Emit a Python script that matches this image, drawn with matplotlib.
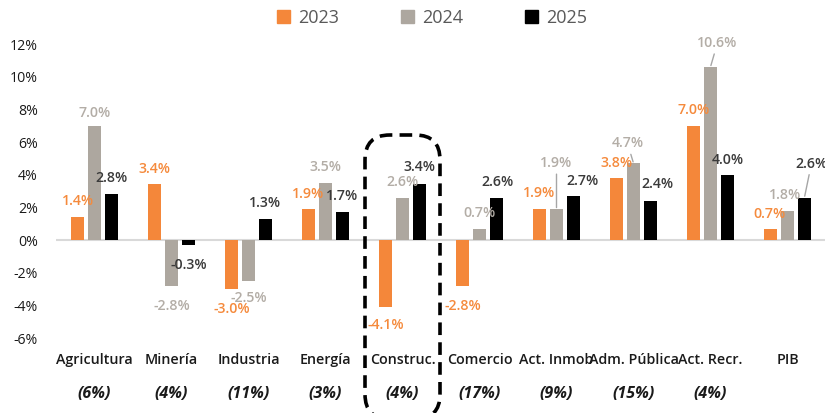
import matplotlib
matplotlib.use("Agg")
import matplotlib.pyplot as plt
import matplotlib.transforms as mtrans
from matplotlib.patches import Patch, FancyBboxPatch
import numpy as np

categories = ["Agricultura", "Minería", "Industria", "Energía", "Construc.",
              "Comercio", "Act. Inmob", "Adm. Pública", "Act. Recr.", "PIB"]
weights = ["(6%)", "(4%)", "(11%)", "(3%)", "(4%)", "(17%)", "(9%)", "(15%)", "(4%)", ""]
series_names = ["2023", "2024", "2025"]
v2023 = [1.4, 3.4, -3.0, 1.9, -4.1, -2.8, 1.9, 3.8, 7.0, 0.7]
v2024 = [7.0, -2.8, -2.5, 3.5, 2.6, 0.7, 1.9, 4.7, 10.6, 1.8]
v2025 = [2.8, -0.3, 1.3, 1.7, 3.4, 2.6, 2.7, 2.4, 4.0, 2.6]
yticks = [-6, -4, -2, 0, 2, 4, 6, 8, 10, 12]

# label offsets in pixels (dx, dy) relative to bar end
off2023 = [(0, 16), (0, 15), (0, -20), (0, 15), (0, -18), (0, -20), (0, 16), (0, 15), (0, 16), (-1, 15)]
off2024 = [(0, 13), (0, -20), (0, -17), (0, 16), (0, 16), (0, 16), (0, 46), (-6, 20), (7, 24), (-2, 16)]
off2025 = [(0, 16), (0, -20), (0, 16), (0, 16), (0, 17), (1, 16), (9, 15), (7, 17), (0, 15), (7, 34)]
lead2024 = [False, False, False, False, False, False, True, True, True, False]
lead2025 = [False] * 9 + [True]

c_or = "#F4873A"
c_gr = "#ADA79F"
c_bk = "#000000"
lab_or = "#F58A3C"
lab_gr = "#B3ADA6"
lab_bk = "#3A3A3A"
txt = "#1A1A1A"

fig = plt.figure(figsize=(8.25, 4.13), dpi=100)
H = 413.0
W = 825.0
ax = fig.add_axes([56 / W, (H - 338) / H, (826 - 56) / W, (338 - 44) / H])
ax.set_xlim(-0.5, len(categories) - 0.5)
ax.set_ylim(-6, 12)
ax.set_facecolor("none")

x = np.arange(len(categories))
bw = 0.175
step = 0.22
font = "Open Sans"

groups = [(v2023, c_or, lab_or, off2023, [False] * 10, -step),
          (v2024, c_gr, lab_gr, off2024, lead2024, 0.0),
          (v2025, c_bk, lab_bk, off2025, lead2025, step)]
for vals, col, lcol, offs, leads, dx in groups:
    xs = x + dx
    ax.bar(xs, vals, width=bw, color=col, zorder=3)
    for xi, v, (ox, oy), ld in zip(xs, vals, offs, leads):
        kw = {}
        if ld:
            kw["arrowprops"] = dict(arrowstyle="-", color="#A6A6A6", lw=1.0,
                                    shrinkA=1, shrinkB=1)
        ax.annotate(f"{v:.1f}%", xy=(xi, v), xytext=(ox, oy),
                    textcoords="offset pixels", ha="center", va="center",
                    fontsize=10.2, color=lcol, fontfamily=font,
                    fontweight="semibold", zorder=5, **kw)

ax.axhline(0, color="#D9D9D9", lw=1.5, zorder=2)
for s in ax.spines.values():
    s.set_visible(False)
ax.set_yticks(yticks)
ax.set_yticklabels([f"{t}%" for t in yticks], fontfamily=font, fontsize=10.2, color=txt)
ax.tick_params(axis="y", length=0, pad=13)
ax.set_xticks([])

bt = mtrans.blended_transform_factory(ax.transData, fig.transFigure)
for xi, cat, w in zip(x, categories, weights):
    ax.text(xi, 1 - 360 / H, cat, transform=bt,
            ha="center", va="center", fontsize=10.3, fontfamily=font,
            fontweight="semibold", color=txt)
    if w:
        ax.text(xi, 1 - 394 / H, w, transform=bt,
                ha="center", va="center", fontsize=11.5, fontfamily=font,
                fontweight="bold", fontstyle="italic", color=txt)

# dashed rounded box around Construc.
box = FancyBboxPatch((365 / W, -6 / H), (440 - 365) / W, (H - 135 + 6) / H,
                     boxstyle="round,pad=0,rounding_size=0.03",
                     transform=fig.transFigure, fill=False, ec="black",
                     lw=2.6, ls=(0, (3.5, 2)), zorder=10,
                     mutation_aspect=W / H)
fig.add_artist(box)

handles = [Patch(color=c) for c in (c_or, c_gr, c_bk)]
leg = fig.legend(handles, series_names, loc="center", bbox_to_anchor=(432 / W, 1 - 18 / H),
                 ncol=3, frameon=False, handlelength=0.75, handleheight=0.75,
                 handletextpad=0.45, columnspacing=3.4, prop={"family": font, "size": 13})
for t in leg.get_texts():
    t.set_color("#595959")

fig.savefig("out.png", dpi=100)
